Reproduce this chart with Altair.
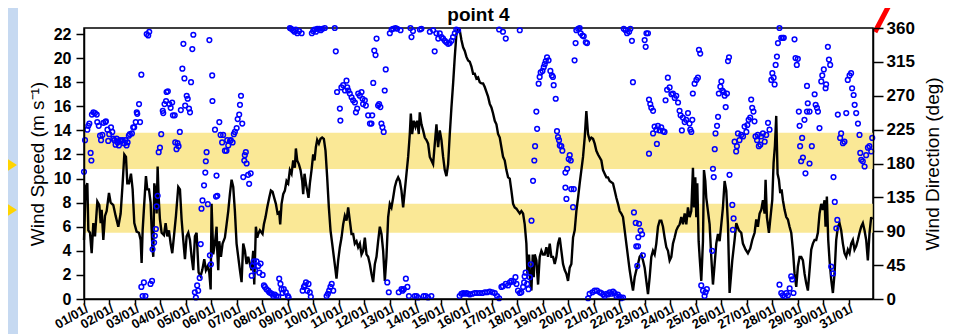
import json
import altair as alt
import pandas as pd

# ---------------- data ----------------
speed_day = [
    0.00, 0.065, 0.131, 0.170, 0.235, 0.301, 0.366, 0.431, 0.523, 0.601, 0.654, 0.693, 0.758, 0.824, 0.889, 0.980,
    1.046, 1.150, 1.242, 1.346, 1.438, 1.516, 1.582, 1.647, 1.699, 1.765, 1.843, 1.908, 1.974, 2.065, 2.157, 2.222,
    2.261, 2.301, 2.366, 2.431, 2.484, 2.549, 2.614, 2.680, 2.719, 2.758, 2.824, 2.850, 2.889, 2.928, 2.980, 3.046,
    3.137, 3.203, 3.268, 3.333, 3.399, 3.464, 3.529, 3.608, 3.699, 3.765, 3.830, 3.895, 3.961, 4.026, 4.092, 4.157,
    4.222, 4.288, 4.353, 4.418, 4.497, 4.575, 4.641, 4.719, 4.784, 4.850, 4.915, 4.970,
    5.006, 5.072, 5.137, 5.203, 5.229, 5.268, 5.307, 5.373, 5.438, 5.529, 5.595, 5.660, 5.725, 5.791, 5.856, 5.921,
    5.987, 6.052, 6.118, 6.183, 6.248, 6.314, 6.379, 6.444, 6.510, 6.575, 6.640, 6.680, 6.745, 6.797, 6.837, 6.902,
    7.006, 7.059, 7.124, 7.189, 7.268, 7.333, 7.399, 7.464, 7.529, 7.595, 7.660, 7.699, 7.752, 7.817, 7.882, 7.948,
    8.013, 8.078, 8.144, 8.209, 8.274, 8.314, 8.366, 8.431, 8.497, 8.562, 8.601, 8.653, 8.706, 8.758, 8.810, 8.863,
    8.928, 8.993, 9.046, 9.098, 9.150, 9.216, 9.281, 9.346, 9.412, 9.477, 9.542, 9.608, 9.673, 9.739, 9.804, 9.869,
    9.908, 9.974,
    10.039, 10.105, 10.170, 10.235, 10.301, 10.366, 10.431, 10.497, 10.562, 10.627, 10.693, 10.758, 10.824, 10.889,
    10.954, 11.020, 11.085, 11.150, 11.216, 11.281, 11.346, 11.412, 11.477, 11.542, 11.608, 11.673, 11.739, 11.804,
    11.869, 11.935, 12.000, 12.065, 12.131, 12.196, 12.261, 12.327, 12.392, 12.457, 12.523, 12.588, 12.654, 12.719,
    12.784, 12.824, 12.876, 12.941, 13.007, 13.072, 13.137, 13.176, 13.242, 13.307, 13.373, 13.438, 13.503, 13.569,
    13.634, 13.699, 13.765, 13.830, 13.895, 13.961, 14.026, 14.092, 14.157, 14.222, 14.288, 14.353, 14.418, 14.484,
    14.549, 14.614, 14.680, 14.745, 14.810, 14.876, 14.941, 15.007, 15.072,
    15.137, 15.203, 15.268, 15.333, 15.399, 15.464, 15.529, 15.595, 15.660, 15.725, 15.791, 15.856, 15.922, 15.987,
    16.052, 16.118, 16.183, 16.248, 16.314, 16.379, 16.444, 16.510, 16.575, 16.641, 16.706, 16.771, 16.837, 16.902,
    16.967, 17.033, 17.098, 17.163, 17.229, 17.294, 17.359, 17.399, 17.464, 17.503, 17.556, 17.608, 17.647, 17.686,
    17.752, 17.817, 17.882, 17.948, 18.013, 18.078, 18.144, 18.209, 18.275, 18.340, 18.405, 18.471, 18.536, 18.601,
    18.667, 18.732, 18.797, 18.863, 18.928, 18.993, 19.059, 19.124, 19.190, 19.255, 19.320, 19.386, 19.451, 19.516,
    19.582, 19.647, 19.712, 19.778, 19.843, 19.908, 19.974, 20.039, 20.105, 20.170,
    20.301, 20.366, 20.431, 20.497, 20.562, 20.627, 20.693, 20.758, 20.824, 20.889, 20.954, 21.020, 21.085, 21.150,
    21.216, 21.281, 21.346, 21.412, 21.477, 21.543, 21.608, 21.673, 21.739, 21.804, 21.869, 21.935, 22.000, 22.065,
    22.131, 22.196, 22.261, 22.327, 22.392, 22.457, 22.523, 22.588, 22.654, 22.719, 22.784, 22.850, 22.915, 22.980,
    23.046, 23.111, 23.176, 23.242, 23.307, 23.373, 23.438, 23.503, 23.569, 23.634, 23.699, 23.765, 23.830, 23.895,
    23.935, 23.987, 24.026, 24.065, 24.118, 24.157, 24.222, 24.288, 24.327, 24.379, 24.418, 24.484, 24.549, 24.614,
    24.680, 24.745, 24.810, 24.876, 24.941, 25.007, 25.072, 25.137, 25.203, 25.268,
    25.333, 25.438, 25.529, 25.595, 25.699, 25.791, 25.856, 25.961, 26.052, 26.144, 26.222, 26.314, 26.379, 26.444,
    26.510, 26.575, 26.641, 26.706, 26.745, 26.797, 26.876, 26.928, 27.007, 27.059, 27.111, 27.163, 27.216, 27.268,
    27.320, 27.373, 27.425, 27.490, 27.556, 27.621, 27.686, 27.752, 27.817, 27.882, 27.948, 28.013, 28.078, 28.144,
    28.209, 28.275, 28.340, 28.405, 28.471, 28.536, 28.601, 28.667, 28.732, 28.797, 28.863, 28.928, 28.993, 29.059,
    29.098, 29.150, 29.203, 29.255, 29.320, 29.386, 29.451, 29.516, 29.582, 29.647, 29.712, 29.778, 29.843, 29.908,
    29.974, 30.039, 30.105, 30.170, 30.235, 30.301, 30.366, 30.431, 30.497, 30.562, 30.627, 30.693, 30.758, 30.824,
    30.889, 30.928,
]
speed_ms = [
    4.9, 9.3, 9.6, 5.7, 5.5, 3.8, 6.3, 5.2, 8.1, 7.8, 6.3, 7.4, 4.9, 6.9, 7.3, 8.8,
    8.0, 7.8, 6.9, 6.0, 7.1, 9.6, 12.0, 11.8, 9.6, 9.6, 10.4, 9.1, 6.3, 5.6, 5.5, 4.9,
    3.0, 5.7, 8.0, 10.2, 9.1, 9.1, 8.0, 4.4, 3.5, 9.6, 8.8, 7.1, 11.0, 8.5, 6.6, 5.5,
    5.3, 6.3, 5.2, 5.7, 4.6, 3.8, 5.2, 6.9, 9.3, 9.1, 6.6, 4.9, 3.3, 5.2, 5.5, 4.9,
    3.5, 2.4, 5.2, 5.5, 2.2, 1.9, 2.4, 3.3, 2.4, 2.7, 2.2, 0.8,
    7.9, 3.7, 4.6, 6.0, 4.0, 2.4, 4.8, 3.5, 4.6, 5.1, 6.2, 7.3, 8.7, 9.9, 9.3, 7.3,
    4.6, 3.5, 2.4, 1.4, 4.6, 4.0, 2.9, 3.5, 2.9, 2.4, 4.0, 1.2, 6.0, 5.1, 5.4, 5.7,
    5.4, 6.2, 6.8, 7.6, 8.4, 9.0, 8.9, 8.4, 7.9, 7.1, 7.2, 6.2, 7.9, 8.7, 9.0, 9.8,
    9.6, 10.7, 10.4, 11.5, 10.9, 12.5, 11.5, 11.2, 10.7, 9.8, 8.7, 10.4, 9.6, 9.0, 8.4, 9.6,
    10.7, 12.0, 11.5, 12.6, 13.2, 12.9, 13.3, 13.4, 13.3, 12.3, 10.1, 7.6, 5.7, 4.6, 3.5, 2.4,
    1.7, 3.2,
    4.3, 5.1, 6.2, 6.9, 6.5, 7.6, 6.5, 5.4, 5.4, 4.6, 4.8, 4.3, 4.6, 3.7,
    4.0, 5.1, 3.7, 3.5, 2.9, 2.1, 1.4, 2.9, 3.5, 4.8, 6.0, 5.4, 4.0, 1.5,
    3.5, 6.8, 7.9, 7.6, 8.4, 9.3, 9.8, 10.1, 9.8, 9.0, 7.6, 9.0, 10.4, 11.8,
    13.7, 15.4, 13.7, 14.8, 14.3, 14.8, 13.7, 15.5, 14.5, 14.0, 13.4, 13.2, 12.9, 11.8,
    11.5, 11.2, 12.9, 14.5, 12.6, 14.0, 13.2, 11.8, 10.7, 10.2, 11.2, 13.7, 15.9, 17.9,
    20.1, 22.0, 22.4, 22.3, 21.5, 20.9, 20.6, 20.1, 19.8,
    19.7, 19.3, 18.7, 18.7, 18.3, 18.4, 18.0, 17.9, 17.9, 17.6, 17.2, 16.8, 16.2, 15.9,
    15.4, 14.8, 14.5, 13.7, 13.4, 12.6, 11.8, 11.5, 10.7, 10.1, 10.0, 9.0, 7.9, 7.6,
    7.5, 7.3, 7.1, 7.3, 7.1, 6.2, 4.6, 2.1, 3.7, 1.8, 0.7, 3.7, 1.8, 3.7,
    3.2, 1.2, 3.5, 4.0, 3.7, 3.7, 4.3, 3.5, 4.6, 3.5, 3.5, 2.9, 3.5, 4.6,
    5.1, 4.0, 2.9, 2.4, 2.1, 1.5, 2.6, 2.9, 5.1, 5.7, 7.3, 8.4, 9.6, 10.7,
    11.8, 13.4, 15.6, 13.7, 13.2, 13.4, 13.3, 12.9, 12.3, 12.0,
    11.5, 10.7, 10.4, 10.1, 10.1, 9.8, 9.7, 9.6, 9.0, 8.4, 7.9, 7.3, 7.1, 6.8,
    5.7, 4.6, 3.5, 2.4, 1.5, 0.7, 1.8, 2.4, 2.9, 3.5, 3.7, 3.2, 2.6, 1.5,
    0.4, 1.8, 3.5, 4.0, 3.7, 4.6, 6.0, 6.5, 6.5, 6.0, 5.1, 4.3, 4.0, 3.2,
    3.5, 4.6, 5.1, 5.7, 6.0, 6.2, 6.8, 6.2, 7.1, 6.2, 7.6, 6.8, 7.3, 10.9,
    7.6, 10.1, 6.8, 9.6, 4.8, 3.5, 1.5, 4.8, 10.7, 9.8, 8.4, 7.3, 6.2, 3.5,
    1.2, 2.9, 4.6, 5.4, 4.8, 6.2, 7.6, 9.8, 9.0, 6.2,
    0.5, 3.2, 4.9, 6.3, 5.7, 5.5, 4.6, 4.1, 3.8, 4.2, 4.9, 5.5, 6.6, 6.0,
    7.1, 7.4, 8.2, 7.1, 9.9, 6.8, 5.5, 6.6, 8.2, 11.3, 12.7, 15.2, 10.4, 9.9,
    8.8, 9.1, 8.2, 7.4, 6.8, 6.6, 6.0, 5.5, 4.1, 2.1, 1.0, 2.7, 3.5, 3.5,
    3.2, 2.1, 1.3, 0.7, 2.4, 4.1, 4.6, 4.9, 4.9, 5.5, 7.1, 7.9, 7.4, 8.2,
    6.0, 8.5, 4.9, 3.2, 1.6, 0.5, 2.1, 4.9, 6.0, 6.3, 5.7, 4.6, 3.8, 3.5,
    4.1, 3.8, 4.6, 4.9, 4.1, 4.4, 4.9, 5.5, 6.0, 6.3, 5.7, 4.9, 3.2, 5.5,
    6.8, 6.6,
]

dir_day = [
    0.00, 0.04, 0.13, 0.17, 0.21, 0.26, 0.29, 0.31, 0.37, 0.43, 0.50, 0.52, 0.58, 0.63, 0.67, 0.72, 0.76, 0.84, 0.86,
    0.92, 0.95, 0.99, 1.06, 1.11, 1.15, 1.19, 1.24, 1.28, 1.32, 1.37, 1.41, 1.46, 1.52, 1.57, 1.63, 1.67, 1.71, 1.76,
    1.80, 1.88, 1.93, 1.97, 2.03, 2.07, 2.09, 2.16, 2.20, 2.25, 2.25, 2.30, 2.35, 2.41, 2.46, 2.52, 2.56, 2.61, 2.67,
    2.69, 2.75, 2.78, 2.82, 2.85, 2.89, 2.93, 2.98, 3.03, 3.09, 3.11, 3.16, 3.22, 3.24, 3.29, 3.35, 3.40, 3.46, 3.49,
    3.56, 3.58, 3.63, 3.67, 3.71, 3.76, 3.80, 3.86, 3.90, 3.94, 3.97, 4.03, 4.07, 4.12, 4.16, 4.20, 4.25, 4.29, 4.35,
    4.39, 4.44, 4.48, 4.54, 4.58, 4.61, 4.65, 4.71, 4.76, 4.78, 4.81, 4.86, 4.92, 4.94, 4.98, 5.03,
    5.04, 5.14, 5.20, 5.18, 5.23, 5.31, 5.36, 5.42, 5.46, 5.53, 5.59, 5.62, 5.66, 5.73, 5.76, 5.83, 5.88, 5.92, 5.99,
    6.03, 6.09, 6.12, 6.16, 6.21, 6.25, 6.29, 6.31, 6.35, 6.38, 6.44, 6.48, 6.54, 6.58, 6.61, 6.67, 6.71, 6.77, 6.84,
    6.88, 6.93, 7.01, 7.06, 7.10, 7.16, 7.23, 7.27, 7.32, 7.37, 7.43, 7.49, 7.55, 7.62, 7.66, 7.71, 7.75, 7.79, 7.84,
    7.92, 8.00, 8.03, 8.08, 8.13, 8.20, 8.26, 8.31, 8.37, 8.44, 8.54, 8.58, 8.63, 8.67, 8.71, 8.76, 8.81, 8.86, 8.90,
    8.94, 8.99, 9.04, 9.10, 9.15, 9.23, 9.29, 9.36, 9.45, 9.52, 9.57, 9.62, 9.67, 9.72, 9.78, 9.84, 9.88, 9.93,
    10.04, 10.06, 10.10, 10.17, 10.24, 10.30, 10.33, 10.37, 10.43, 10.50, 10.56, 10.63, 10.67, 10.72, 10.76, 10.82,
    10.89, 10.93, 10.95, 11.02, 11.06, 11.15, 11.22, 11.28, 11.31, 11.35, 11.39, 11.44, 11.48, 11.54, 11.58, 11.63,
    11.67, 11.71, 11.76, 11.80, 11.84, 11.90, 11.96, 12.00, 12.07, 12.13, 12.22, 12.29, 12.35, 12.42, 12.46, 12.50,
    12.55, 12.63, 12.69, 12.75, 12.81, 12.85, 12.91, 12.98, 13.05, 13.11, 13.18, 13.24, 13.33, 13.41, 13.50, 13.57,
    13.63, 13.70, 13.76, 13.83, 13.90, 13.96, 14.03, 14.09, 14.16, 14.22, 14.29, 14.35, 14.42, 14.48, 14.55, 14.61,
    14.68, 14.74, 14.81, 14.88, 14.94, 15.01, 15.07,
    15.14, 15.24, 15.33, 15.42, 15.53, 15.63, 15.73, 15.82, 15.92, 16.03, 16.12, 16.21, 16.29, 16.29, 16.44, 16.55,
    17.10, 16.38, 16.44, 16.55, 16.64, 16.71, 16.77, 16.86, 16.93, 16.97, 17.03, 17.10, 17.16, 17.23, 17.27, 17.29,
    17.33, 17.39, 17.44, 17.49, 17.53, 17.56, 17.62, 17.67, 17.70, 17.78, 17.75, 17.84, 17.88, 17.92, 17.99, 18.04,
    18.08, 18.12, 18.17, 18.23, 18.30, 18.36, 18.40, 18.43, 18.51, 18.56, 18.60, 18.64, 18.67, 18.73, 18.77, 18.89,
    18.96, 19.02, 19.06, 19.10, 18.89, 18.93, 19.12, 19.22, 19.19, 19.25, 19.29, 19.32, 19.39, 19.45, 19.49, 19.56,
    19.61, 19.69, 19.74, 19.78, 19.84, 19.95, 20.04, 20.13,
    20.24, 20.30, 20.37, 20.43, 20.50, 20.56, 20.63, 20.69, 20.76, 20.82, 20.89, 20.95, 21.02, 21.08, 21.15,
    21.18, 21.25, 21.31, 21.39, 21.44, 21.50, 21.54, 22.00, 22.07, 22.13, 22.04, 22.17, 22.22, 22.26, 22.33,
    21.58, 21.65, 21.67, 21.74, 21.71, 21.78, 21.84, 21.90, 21.93, 21.75,
    22.33, 22.39, 22.46, 22.52, 22.59, 22.65, 22.72, 22.78, 22.48, 22.17,
    22.82, 22.88, 22.91, 22.98, 23.05, 23.11, 23.18, 23.24, 23.31, 23.37, 23.41, 23.46, 23.50, 23.57, 23.63, 23.70,
    23.76, 23.79, 23.83, 23.87, 23.89, 23.96, 24.03, 24.09, 24.13, 24.18,
    24.22, 24.29, 24.35, 24.39, 24.44, 24.65, 24.71, 24.68,
    24.75, 24.78, 24.84, 24.88, 24.91, 24.97, 25.01, 25.05, 25.10, 25.14, 25.18, 25.23, 25.27, 25.31,
    25.33, 25.44, 25.49, 25.46,
    25.53, 25.59, 25.62, 25.66, 25.72, 25.79, 25.86, 25.92, 25.99, 26.03, 26.08, 26.14, 26.18, 26.22, 26.27, 26.31,
    26.35, 26.41, 26.44, 26.48, 26.54, 26.57, 26.64, 26.71, 26.77, 26.84, 26.90,
    26.97, 27.01, 27.06, 27.10, 27.14, 27.19, 27.23, 27.29, 27.36, 27.42, 27.46,
    27.29, 27.36, 27.42, 27.49, 27.56, 27.62, 27.69, 27.75, 27.79, 27.84,
    27.88, 27.92, 27.97, 28.01,
    28.05, 28.08, 28.10, 28.18, 28.14, 28.21, 28.31, 28.47, 28.56,
    28.27, 28.37, 28.40, 28.37, 28.47, 28.67, 28.71, 28.76, 28.80, 28.86,
    28.93, 28.97, 29.03, 29.10, 29.12, 29.19, 29.23, 29.28,
    29.32, 29.39, 29.41, 29.46, 29.52, 29.56,
    29.58, 29.67, 29.71, 29.78, 29.84, 29.91, 29.97, 30.04, 30.10, 30.14, 30.20, 30.24, 30.30, 30.37, 30.43,
    30.46, 30.50, 30.56, 30.63, 30.69, 30.76, 30.82, 30.89, 30.93,
]
dir_deg = [
    169, 211, 225, 230, 233, 194, 184, 245, 248, 247, 245, 235, 230, 217, 211, 218, 234, 235, 236,
    225, 210, 219, 228, 222, 213, 211, 205, 213, 208, 204, 211, 210, 211, 207, 211, 204, 208, 217,
    219, 220, 228, 228, 235, 248, 246, 259, 235, 298, 16, 4, 22, 4, 352, 350, 355, 20, 24,
    66, 75, 84, 93, 123, 137, 195, 201, 219, 250, 247, 259, 263, 275, 276, 259, 254, 261, 244,
    244, 208, 199, 207, 203, 222, 251, 306, 339, 293, 257, 270, 266, 253, 248, 288, 332, 351, 9,
    2, 18, 11, 28, 73, 120, 131, 151, 168, 183, 195, 126, 344, 58, 46, 297,
    263, 225, 164, 136, 137, 235, 218, 208, 218, 197, 197, 211, 204, 210, 211, 208, 219, 222, 227,
    239, 245, 258, 270, 233, 162, 184, 191, 195, 180, 165, 153, 167, 31, 44, 50, 38, 50, 44,
    35, 47, 32, 18, 16, 13, 11, 9, 8, 7, 4, 6, 4, 3, 27, 20, 13, 8, 13,
    9, 4, 2, 360, 359, 357, 355, 358, 353, 356, 353, 11, 16, 18, 22, 11, 20, 9, 3,
    353, 356, 358, 355, 359, 359, 357, 359, 360, 4, 7, 11, 16, 20, 11, 360, 329, 275,
    253, 237, 281, 284, 277, 290, 281, 277, 273, 268, 264, 261, 248, 253, 273, 270,
    275, 266, 259, 264, 257, 244, 233, 233, 244, 287, 330, 324, 346, 257, 259, 255,
    233, 228, 222, 277, 305, 22, 9, 353, 358, 359, 360, 359, 9, 357, 13, 11,
    13, 27, 16, 4, 360, 348, 356, 4, 4, 2, 358, 359, 4, 4, 2, 355,
    4, 357, 329, 353, 346, 353, 348, 346, 343, 341, 339, 340, 343, 348, 353, 358,
    357, 4, 7, 8, 7, 8, 7,
    6, 7, 8, 8, 8, 8, 9, 9, 10, 9, 8, 4, 1, 358, 355, 346,
    357, 16, 17, 20, 18, 22, 24, 23, 29, 20, 11, 8, 9, 16, 22, 30,
    35, 20, 13, 29, 46, 104, 157, 184, 203, 226, 249, 286, 295, 301, 303, 308,
    312, 316, 321, 317, 303, 297, 295, 284, 266, 223, 215, 211, 204, 203, 197, 168,
    173, 186, 191, 184, 148, 133, 146, 146, 122, 317, 340, 357, 359, 360, 353, 350,
    349, 341, 340, 1, 7, 9, 11, 11,
    9, 8, 6, 4, 7, 6, 9, 7, 10, 8, 4, 6, 3, 1, 2,
    359, 357, 353, 355, 359, 343, 288, 344, 353, 353, 335, 265, 259, 254, 250,
    115, 101, 70, 70, 44, 100, 91, 86, 58, 82,
    220, 229, 225, 230, 224, 228, 223, 222, 206, 193,
    264, 278, 294, 281, 272, 273, 267, 270, 261, 250, 244, 224, 241, 235, 238, 247,
    233, 225, 222, 238, 273, 286, 291, 294, 331, 326,
    18, 11, 4, 9, 13, 64, 162, 173,
    199, 220, 230, 242, 273, 282, 289, 277, 275, 270, 255, 273, 316, 321,
    165, 125, 107, 92,
    209, 196, 203, 220, 211, 218, 216, 229, 222, 231, 238, 241, 265, 254, 249, 236,
    216, 211, 218, 203, 205, 216, 220, 209, 218, 234, 225,
    291, 300, 294, 285, 311, 322, 340, 360, 347, 347, 347,
    19, 8, 5, 3, 8, 5, 14, 30, 26, 8,
    345, 320, 311, 319,
    249, 230, 203, 214, 183, 188, 167, 180, 203,
    238, 249, 260, 283, 249, 272, 258, 254, 249, 227,
    289, 297, 305, 280, 285, 335, 318, 311,
    43, 34, 162, 129, 94, 105,
    245, 214, 220, 207, 209, 247, 291, 297, 300, 280, 271, 258, 247, 233, 218,
    194, 185, 183, 176, 191, 201, 203, 196, 214,
]

band_low = [10.8, 5.5]
band_high = [13.8, 7.9]

speed_ticks = [0, 2, 4, 6, 8, 10, 12, 14, 16, 18, 20, 22]
dir_ticks = [0, 45, 90, 135, 180, 225, 270, 315, 360]
day_ticks = list(range(31))
date_labels = [
    "01/01/", "02/01/", "03/01/", "04/01/", "05/01/", "06/01/", "07/01/", "08/01/", "09/01/", "10/01/",
    "11/01/", "12/01/", "13/01/", "14/01/", "15/01/", "16/01/", "17/01/", "18/01/", "19/01/", "20/01/",
    "21/01/", "22/01/", "23/01/", "24/01/", "25/01/", "26/01/", "27/01/", "28/01/", "29/01/", "30/01/",
    "31/01/",
]
title_text = ["point 4"]

# ---------------- styling ----------------
FONT = "Liberation Sans"
W, H = 789, 271
YELLOW = "#FAE896"
BLUE_BG = "#C6D9F1"

speed_df = pd.DataFrame({"day": speed_day, "speed": speed_ms})
dir_df = pd.DataFrame({"day": dir_day, "deg": dir_deg})
band_df = pd.DataFrame({"low": band_low, "high": band_high})
title_df = pd.DataFrame({"t": title_text})
one = pd.DataFrame({"k": [0]})

x_scale = alt.Scale(domain=[0, 30.96], nice=False, zero=False)
speed_scale = alt.Scale(domain=[0, 22.5], nice=False, zero=True)
dir_scale = alt.Scale(domain=[0, 360], nice=False)

x_axis = alt.Axis(
    values=day_ticks,
    labelExpr=json.dumps(date_labels) + "[datum.value]",
    labelAngle=330, labelAlign="right", labelBaseline="top",
    labelFont=FONT, labelFontSize=13, labelFontWeight="bold", labelColor="black",
    labelPadding=-2, tickSize=5, tickWidth=1.5, tickColor="black", labelOverlap=False,
    domainColor="black", domainWidth=1.5, grid=False, title=None, zindex=1,
)
left_axis = alt.Axis(
    values=speed_ticks, grid=False,
    labelFont=FONT, labelFontSize=16, labelFontWeight="bold", labelColor="black", labelPadding=5,
    tickSize=8, tickWidth=1.5, tickColor="black", domainColor="black", domainWidth=1.5,
    title="Wind Speed (m s⁻¹)", titleFont=FONT, titleFontSize=19, titleFontWeight="normal",
    titleColor="black", titleAngle=270, titleAlign="center", titleBaseline="middle",
    titleX=-47, titleY=H / 2, zindex=1,
)
right_axis = alt.Axis(
    orient="right", values=dir_ticks, grid=False,
    labelFont=FONT, labelFontSize=17, labelFontWeight="bold", labelColor="black", labelPadding=3,
    tickSize=10, tickWidth=1.5, tickColor="black", domainColor="black", domainWidth=1.5,
    title="Wind Direction (deg)", titleFont=FONT, titleFontSize=19, titleFontWeight="normal",
    titleColor="black", titleAngle=270, titleAlign="center", titleBaseline="middle",
    titleX=59, titleY=H / 2, zindex=1,
)

bands = alt.Chart(band_df).mark_rect(color=YELLOW).encode(
    x=alt.value(0), x2=alt.value(W),
    y=alt.Y("low:Q", scale=speed_scale, axis=left_axis), y2="high:Q",
)
line = alt.Chart(speed_df).mark_line(color="black", strokeWidth=2.4).encode(
    x=alt.X("day:Q", scale=x_scale, axis=x_axis),
    y=alt.Y("speed:Q", scale=speed_scale, axis=left_axis),
)
points = alt.Chart(dir_df).mark_point(
    shape="circle", filled=False, color="#0000FF", size=22, strokeWidth=1.5, opacity=1
).encode(
    x=alt.X("day:Q", scale=x_scale, axis=x_axis),
    y=alt.Y("deg:Q", scale=dir_scale, axis=right_axis),
)

# chart title as a text mark (kept clear of the slide decorations)
title = alt.Chart(title_df).mark_text(
    font=FONT, fontSize=19, fontWeight="bold", color="black", align="center", baseline="alphabetic"
).encode(x=alt.value(W / 2), y=alt.value(-7), text="t:N")

# decorations of the slide: left blue strip, yellow pointers, red marker
strip = alt.Chart(one).mark_rect(color=BLUE_BG).encode(
    x=alt.value(-76), x2=alt.value(-66), y=alt.value(-20), y2=alt.value(H + 40)
)
arrow1 = alt.Chart(one).mark_point(
    shape="M -0.77 -1 L 0.77 0 L -0.77 1 Z", filled=True, color="#FFD400", size=484, opacity=1
).encode(x=alt.value(-75.5), y=alt.value(137))
arrow2 = alt.Chart(one).mark_point(
    shape="M -0.77 -1 L 0.77 0 L -0.77 1 Z", filled=True, color="#FFD400", size=484, opacity=1
).encode(x=alt.value(-75.5), y=alt.value(182))
red = alt.Chart(one).mark_rule(color="#FF0000", strokeWidth=5).encode(
    x=alt.value(791), y=alt.value(4), x2=alt.value(812), y2=alt.value(-36)
)

chart = alt.layer(
    alt.layer(bands, line), points, title, strip, arrow1, arrow2, red
).resolve_scale(y="independent").properties(
    width=W, height=H,
    padding={"left": 76, "right": 75, "top": 20, "bottom": 35},
    autosize=alt.AutoSizeParams(type="none"),
    background="white",
).configure_view(stroke="black", strokeWidth=1.5)

chart.save("out.html", embed_options={"renderer": "svg", "actions": False})
